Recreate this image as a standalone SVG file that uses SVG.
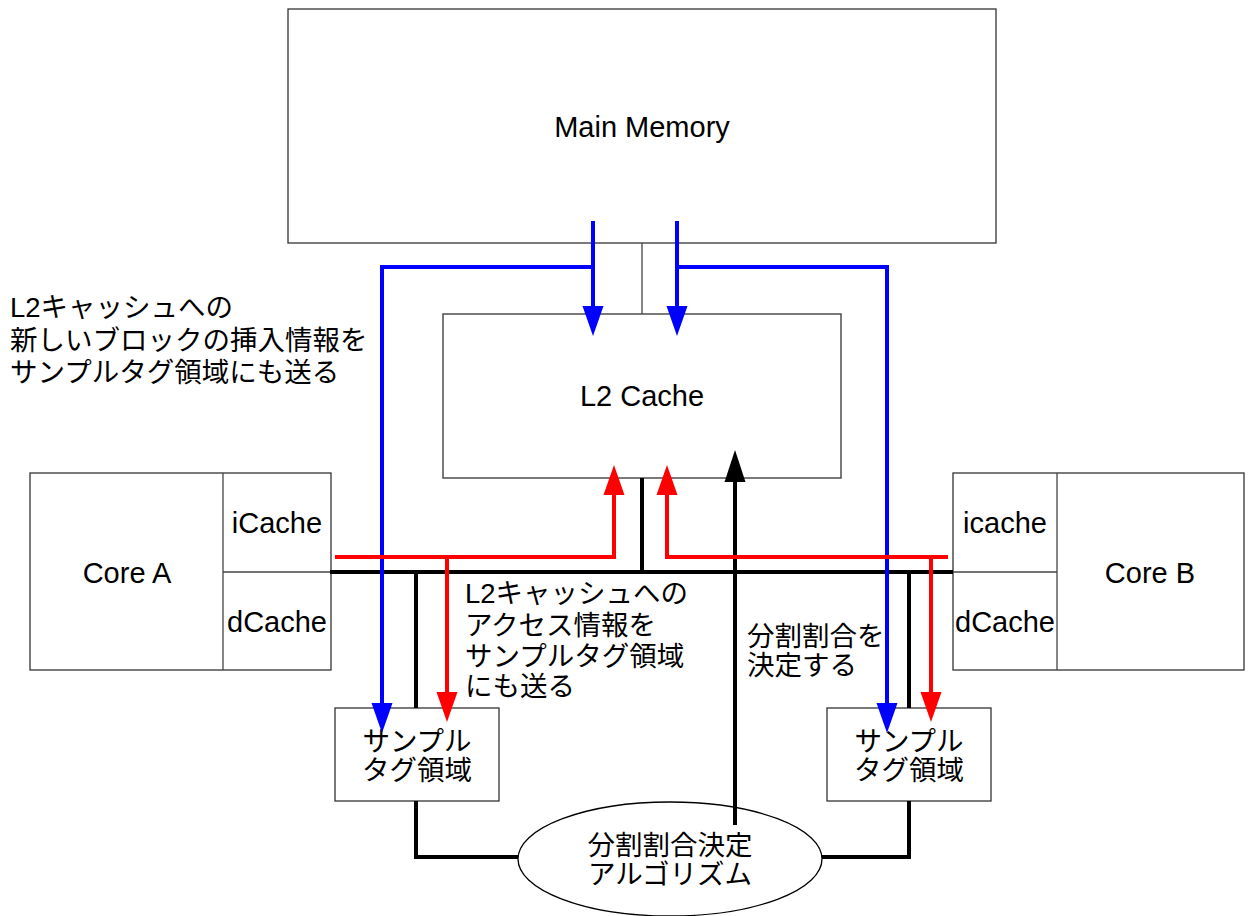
<svg xmlns="http://www.w3.org/2000/svg" width="1250" height="916" viewBox="0 0 1250 916">
<style>
.box{fill:#fff;stroke:#333;stroke-width:1.3}
.lat{font-family:"Liberation Sans",Arial,sans-serif;font-size:29px;fill:#000}
.jp{font-family:"Liberation Sans","Noto Sans CJK JP",sans-serif;font-size:27.5px;fill:#000}
.mid{text-anchor:middle}
.blue{fill:none;stroke:#0000ff;stroke-width:4}
.red{fill:none;stroke:#ff0000;stroke-width:4}
.blk{fill:none;stroke:#000;stroke-width:4}
.thin{fill:none;stroke:#444;stroke-width:1.3}
</style>
<defs>
<marker id="ab" markerUnits="userSpaceOnUse" markerWidth="31" markerHeight="22" refX="0" refY="10.5" orient="auto" overflow="visible"><path d="M0,0 L30,10.5 L0,21 z" fill="#0000ff"/></marker>
<marker id="ar" markerUnits="userSpaceOnUse" markerWidth="31" markerHeight="22" refX="0" refY="10.5" orient="auto" overflow="visible"><path d="M0,0 L30,10.5 L0,21 z" fill="#ff0000"/></marker>
<marker id="ak" markerUnits="userSpaceOnUse" markerWidth="33" markerHeight="22" refX="0" refY="10.5" orient="auto" overflow="visible"><path d="M0,0 L32,10.5 L0,21 z" fill="#000"/></marker>
</defs>
<rect width="1250" height="916" fill="#fff"/>

<g id="main-memory">
<rect class="box" x="288" y="9" width="708" height="234"/>
<text class="lat mid" x="642" y="137">Main Memory</text>
</g>
<g id="l2-cache">
<rect class="box" x="443" y="314" width="398" height="164"/>
<text class="lat mid" x="642" y="406">L2 Cache</text>
</g>
<g id="core-a">
<rect class="box" x="30" y="473" width="301" height="197"/>
<line class="thin" x1="223" y1="473" x2="223" y2="670"/>
<line class="thin" x1="223" y1="572" x2="331" y2="572"/>
<text class="lat mid" x="127" y="583">Core A</text>
<text class="lat mid" x="277" y="533">iCache</text>
<text class="lat mid" x="277" y="632">dCache</text>
</g>
<g id="core-b">
<rect class="box" x="953" y="473" width="291" height="197"/>
<line class="thin" x1="1057" y1="473" x2="1057" y2="670"/>
<line class="thin" x1="953" y1="572" x2="1057" y2="572"/>
<text class="lat mid" x="1150" y="583">Core B</text>
<text class="lat mid" x="1005" y="533">icache</text>
<text class="lat mid" x="1005" y="632">dCache</text>
</g>
<g id="sample-a">
<rect class="box" x="335" y="708" width="164" height="93"/>
<text class="jp mid" x="417" y="751">サンプル</text>
<text class="jp mid" x="417" y="780">タグ領域</text>
</g>
<g id="sample-b">
<rect class="box" x="827" y="708" width="164" height="93"/>
<text class="jp mid" x="909" y="751">サンプル</text>
<text class="jp mid" x="909" y="780">タグ領域</text>
</g>
<g id="algorithm">
<ellipse cx="670" cy="859" rx="152" ry="57" fill="#fff" stroke="#000" stroke-width="1.3"/>
<text class="jp mid" x="670" y="855">分割割合決定</text>
<text class="jp mid" x="670" y="884">アルゴリズム</text>
</g>

<g id="connectors">
<line class="thin" x1="642" y1="243" x2="642" y2="314"/>
<path class="blk" d="M330,572 H953"/>
<path class="blk" d="M642,478 V572"/>
<path class="blk" d="M416,572 V708"/>
<path class="blk" d="M416,801 V857 H518"/>
<path class="blk" d="M909,572 V708"/>
<path class="blk" d="M909,801 V857 H822"/>
<path class="blk" d="M735,825 V482" marker-end="url(#ak)"/>
<path class="blue" d="M593,221 V306" marker-end="url(#ab)"/>
<path class="blue" d="M677,221 V306" marker-end="url(#ab)"/>
<path class="blue" d="M593,267 H382 V703" marker-end="url(#ab)"/>
<path class="blue" d="M677,267 H887 V703" marker-end="url(#ab)"/>
<path class="red" d="M335,557 H614 V495" marker-end="url(#ar)"/>
<path class="red" d="M447,557 V692" marker-end="url(#ar)"/>
<path class="red" d="M948,557 H667 V495" marker-end="url(#ar)"/>
<path class="red" d="M931,557 V692" marker-end="url(#ar)"/>
</g>

<g id="labels">
<text class="jp" x="10" y="317">L2キャッシュへの</text>
<text class="jp" x="10" y="350">新しいブロックの挿入情報を</text>
<text class="jp" x="10" y="382">サンプルタグ領域にも送る</text>
<text class="jp" x="465" y="603">L2キャッシュへの</text>
<text class="jp" x="465" y="635">アクセス情報を</text>
<text class="jp" x="465" y="666">サンプルタグ領域</text>
<text class="jp" x="465" y="696">にも送る</text>
<text class="jp" x="747" y="646">分割割合を</text>
<text class="jp" x="747" y="675">決定する</text>
</g>
</svg>
